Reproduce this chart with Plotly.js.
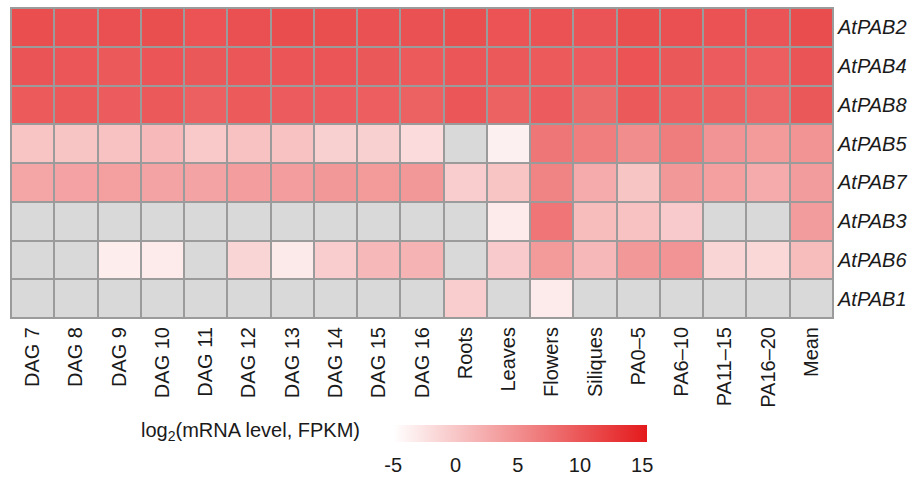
<!DOCTYPE html>
<html>
<head>
<meta charset="utf-8">
<script src="https://cdn.plot.ly/plotly-3.0.1.min.js"></script>
<style>html,body{margin:0;padding:0;background:#fff;}#chart{width:915px;height:484px;}</style>
</head>
<body>
<div id="chart"></div>
<script>
const samples = ["DAG 7","DAG 8","DAG 9","DAG 10","DAG 11","DAG 12","DAG 13","DAG 14","DAG 15","DAG 16","Roots","Leaves","Flowers","Siliques","PA0–5","PA6–10","PA11–15","PA16–20","Mean"];
const genes = ["AtPAB2","AtPAB4","AtPAB8","AtPAB5","AtPAB7","AtPAB3","AtPAB6","AtPAB1"];
// log2(FPKM); null = not detected (grey)
const AtPAB2 = [10.8,10.5,10.6,10.7,10.3,10.6,10.9,10.7,10.5,10.5,10.7,10.3,10.4,10.2,10.7,10.6,10.4,10.2,10.9];
const AtPAB4 = [10.2,10.0,9.8,10.1,9.9,10.0,10.1,10.1,9.9,9.7,10.0,9.8,9.7,9.5,10.3,9.9,9.6,9.3,10.2];
const AtPAB8 = [9.7,9.8,9.6,9.8,9.2,9.7,9.6,9.5,9.3,9.0,10.0,9.0,9.5,8.3,9.8,9.2,9.0,8.6,9.9];
const AtPAB5 = [0.3,0.2,0.5,1.2,-0.2,0.4,0.5,-0.8,-0.8,-1.8,null,-3.7,7.2,6.5,5.2,6.6,4.5,4.0,4.6];
const AtPAB7 = [3.0,3.3,3.5,3.2,3.2,3.7,3.7,4.2,4.0,4.2,-0.5,0.3,6.0,2.5,0.2,4.2,3.5,2.5,3.8];
const AtPAB3 = [null,null,null,null,null,null,null,null,null,null,null,-3.2,7.3,1.0,0.4,-0.3,null,null,3.8];
const AtPAB6 = [null,null,-3.4,-3.2,null,-1.3,-3.0,-0.5,1.3,1.8,null,-0.3,4.0,1.3,4.2,4.5,-1.3,-1.5,1.0];
const AtPAB1 = [null,null,null,null,null,null,null,null,null,null,-0.5,null,-3.2,null,null,null,null,null,null];
const cbTickVals = [-5,0,5,10,15];
const cbTickText = ["-5","0","5","10","15"];

const z = [AtPAB2,AtPAB4,AtPAB8,AtPAB5,AtPAB7,AtPAB3,AtPAB6,AtPAB1];
const mask = z.map(r => r.map(v => v === null ? 1 : null));
const ylabels = genes.map(g => "<i>" + g + "</i>");

const font = {family: "Liberation Sans, Arial, sans-serif", size: 20, color: "#1a1a1a"};

const traces = [
  {type: "heatmap", x: samples, y: genes, z: mask, xgap: 2, ygap: 2,
   colorscale: [[0,"#d9d9d9"],[1,"#d9d9d9"]], showscale: false, hoverinfo: "skip"},
  {type: "heatmap", x: samples, y: genes, z: z, xgap: 2, ygap: 2,
   zmin: -5, zmax: 15.4,
   colorscale: [[0,"#ffffff"],[1,"#e41a1c"]],
   colorbar: {orientation: "h", x: 0.6195, xanchor: "center", y: -0.345, yanchor: "top",
     lenmode: "pixels", len: 254, thickness: 17, thicknessmode: "pixels",
     xpad: 0, ypad: 0, outlinewidth: 0,
     tickvals: cbTickVals, ticktext: cbTickText, ticks: "outside", ticklen: 6, tickcolor: "rgba(0,0,0,0)",
     tickfont: font}}
];

const layout = {
  width: 915, height: 484,
  margin: {l: 10.5, r: 82, t: 8, b: 160, pad: 0},
  paper_bgcolor: "#ffffff",
  plot_bgcolor: "#9b9b9b",
  font: font,
  xaxis: {type: "category", tickangle: -90, tickfont: font, ticks: "", showgrid: false, zeroline: false,
          showline: true, linecolor: "#9b9b9b", linewidth: 1, mirror: true},
  yaxis: {type: "category", autorange: "reversed", side: "right", tickfont: font, ticks: "",
          tickvals: genes, ticktext: ylabels, showgrid: false, zeroline: false,
          showline: true, linecolor: "#9b9b9b", linewidth: 1, mirror: true},
  annotations: [{text: "log<sub>2</sub>(mRNA level, FPKM)", xref: "paper", yref: "paper",
                 x: 0.4274, y: -0.367, xanchor: "right", yanchor: "middle", showarrow: false, font: font}]
};

Plotly.newPlot("chart", traces, layout, {displayModeBar: false, staticPlot: true});
</script>
</body>
</html>
